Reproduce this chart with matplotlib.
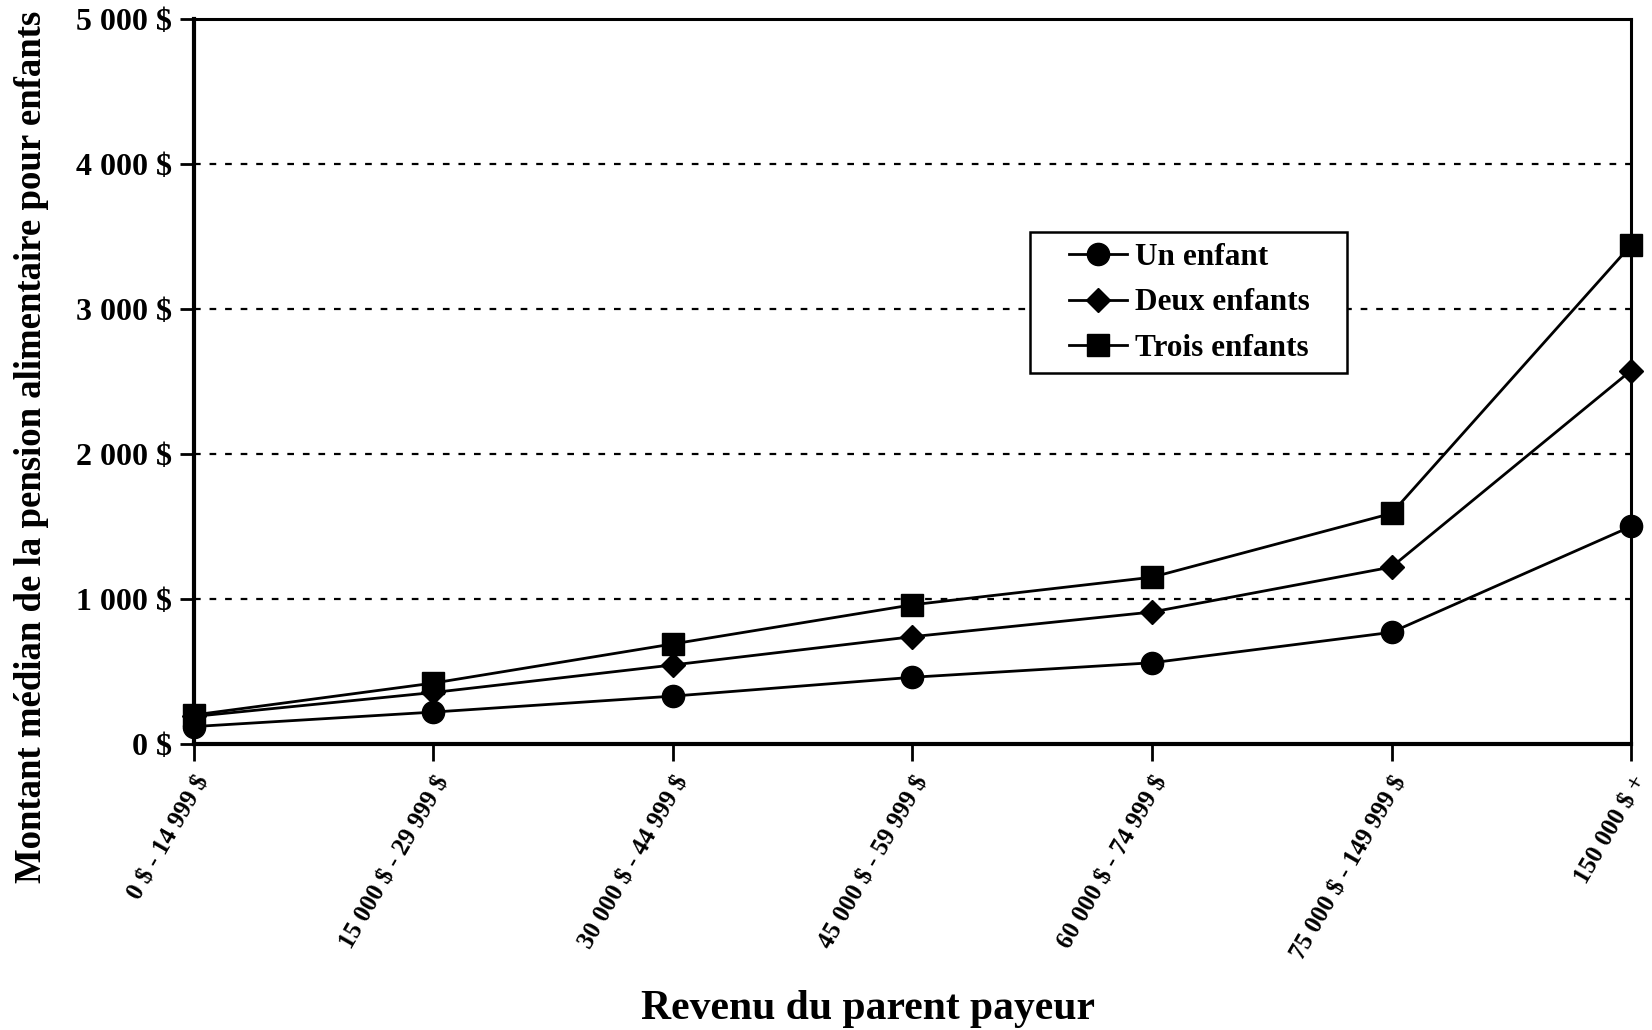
import matplotlib
matplotlib.use("Agg")
import matplotlib.pyplot as plt
from matplotlib.patches import Rectangle
from matplotlib.ticker import FuncFormatter

# Tranches de revenu du parent payeur
categories = [
    "0 $ - 14 999 $",
    "15 000 $ - 29 999 $",
    "30 000 $ - 44 999 $",
    "45 000 $ - 59 999 $",
    "60 000 $ - 74 999 $",
    "75 000 $ - 149 999 $",
    "150 000 $ +",
]

# Montant médian de la pension alimentaire ($)
un_enfant = [120, 220, 330, 460, 560, 770, 1500]
deux_enfants = [190, 355, 545, 740, 910, 1220, 2575]
trois_enfants = [200, 420, 690, 960, 1150, 1590, 3440]

y_ticks = [0, 1000, 2000, 3000, 4000, 5000]

serif = ["Liberation Serif", "DejaVu Serif"]
plt.rcParams["font.family"] = serif
plt.rcParams["font.weight"] = "bold"
plt.rcParams["text.parse_math"] = False

fig = plt.figure(figsize=(16.52, 10.30), dpi=100)
ax = fig.add_axes([0.1174, 0.2777, 0.8699, 0.7039])

x = list(range(len(categories)))
common = dict(color="black", linewidth=2.0, markerfacecolor="black",
              markeredgecolor="black", clip_on=False, zorder=3)
ax.plot(x, un_enfant, marker="o", markersize=16, label="Un enfant", **common)
ax.plot(x, deux_enfants, marker="D", markersize=12.5, label="Deux enfants", **common)
ax.plot(x, trois_enfants, marker="s", markersize=16, label="Trois enfants", **common)

ax.set_xlim(0, len(categories) - 1)
ax.set_ylim(0, 5000)
ax.set_yticks(y_ticks)
ax.yaxis.set_major_formatter(
    FuncFormatter(lambda v, p: f"{int(v):,} $".replace(",", " ")))
ax.set_xticks(x)
ax.set_xticklabels(categories, rotation=60, ha="right", va="top",
                   rotation_mode="anchor", fontsize=18, fontweight="bold")

for g in y_ticks[1:-1]:
    ax.axhline(g, color="black", linewidth=1.6, linestyle=(0, (3, 4)), zorder=1)

for s in ax.spines.values():
    s.set_linewidth(2.2)
ax.spines["bottom"].set_linewidth(3)
ax.spines["left"].set_linewidth(3)

ax.tick_params(axis="y", direction="out", length=10, width=2, labelsize=23, pad=6)
ax.tick_params(axis="x", direction="out", length=12, width=2, pad=8)
for t in ax.get_yticklabels():
    t.set_fontweight("bold")

ax.set_ylabel("Montant médian de la pension alimentaire pour enfants",
              fontsize=26.5, fontweight="bold", va="center")
ax.yaxis.set_label_coords(-0.113, 0.41)
fig.text(0.5255, 0.02, "Revenu du parent payeur", fontsize=30,
         fontweight="bold", ha="center", va="center")

# Legend entries with a separately drawn box around them
leg = ax.legend(loc="upper left", bbox_to_anchor=(0.609, 0.6915),
                frameon=False, handlelength=1.86, handletextpad=0.24,
                borderpad=0, borderaxespad=0, labelspacing=0.54,
                prop={"family": serif, "weight": "bold", "size": 22.5})
ax.add_patch(Rectangle((0.5818, 0.5117), 0.2206, 0.1945, transform=ax.transAxes,
                       facecolor="white", edgecolor="black", linewidth=1.8,
                       zorder=4))
leg.set_zorder(5)

fig.savefig("out.png", dpi=100, facecolor="white")
